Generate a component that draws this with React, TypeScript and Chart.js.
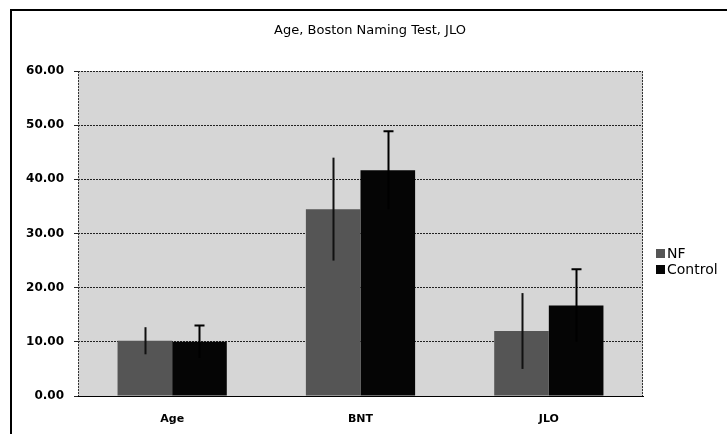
import React, { useEffect, useRef } from "react";
import { Chart, registerables } from "chart.js";

Chart.register(...registerables);

const TITLE = "Age, Boston Naming Test, JLO";
const categories = ["Age", "BNT", "JLO"];
const nfValues = [10.2, 34.5, 12.0];
const nfErrors = [2.5, 9.5, 7.0];
const controlValues = [10.0, 41.7, 16.7];
const controlErrors = [3.0, 7.2, 6.7];
const yTicks = [0, 10, 20, 30, 40, 50, 60];

const FONT = "'DejaVu Sans', Verdana, sans-serif";

const bgPlugin = {
  id: "bgPlugin",
  beforeDraw(chart: any) {
    const { ctx, chartArea: a } = chart;
    ctx.save();
    ctx.fillStyle = "#ffffff";
    ctx.fillRect(0, 0, chart.width, chart.height);
    ctx.fillStyle = "#d6d6d6";
    ctx.fillRect(a.left, a.top, a.right - a.left, a.bottom - a.top);
    ctx.restore();
  },
  afterDraw(chart: any) {
    const { ctx, chartArea: a } = chart;
    ctx.save();
    ctx.strokeStyle = "#000";
    ctx.lineWidth = 2;
    ctx.beginPath();
    ctx.moveTo(11, 440);
    ctx.lineTo(11, 10);
    ctx.lineTo(740, 10);
    ctx.stroke();
    ctx.lineWidth = 1;
    ctx.setLineDash([2, 1]);
    ctx.strokeStyle = "#333";
    ctx.beginPath();
    ctx.moveTo(a.left + 0.5, a.top);
    ctx.lineTo(a.left + 0.5, a.bottom);
    ctx.moveTo(a.right - 0.5, a.top);
    ctx.lineTo(a.right - 0.5, a.bottom);
    ctx.stroke();
    ctx.setLineDash([]);
    ctx.fillStyle = "#000";
    ctx.font = `13px ${FONT}`;
    ctx.textAlign = "center";
    ctx.textBaseline = "middle";
    ctx.fillText(TITLE, 370, 31);
    const items = [
      { label: "NF", color: "#555555" },
      { label: "Control", color: "#050505" },
    ];
    ctx.font = `14px ${FONT}`;
    ctx.textAlign = "left";
    items.forEach((it, i) => {
      const y = 253 + i * 16;
      ctx.fillStyle = it.color;
      ctx.fillRect(656, y - 4, 9, 9);
      ctx.fillStyle = "#000";
      ctx.fillText(it.label, 667, y + 1);
    });
    ctx.restore();
  },
};

const errorPlugin = {
  id: "errorPlugin",
  afterDatasetsDraw(chart: any) {
    const { ctx } = chart;
    const yScale = chart.scales.y;
    const errs = [nfErrors, controlErrors];
    const vals = [nfValues, controlValues];
    ctx.save();
    ctx.lineWidth = 2;
    [0, 1].forEach((di) => {
      const meta = chart.getDatasetMeta(di);
      meta.data.forEach((bar: any, i: number) => {
        const x = Math.round(bar.x) + 0.5;
        const yTop = yScale.getPixelForValue(vals[di][i] + errs[di][i]);
        const yBot = yScale.getPixelForValue(vals[di][i] - errs[di][i]);
        ctx.strokeStyle = di === 0 ? "#111" : "#000";
        ctx.beginPath();
        ctx.moveTo(x, yBot);
        ctx.lineTo(x, yTop);
        if (di === 1) {
          ctx.moveTo(x - 5, yTop);
          ctx.lineTo(x + 5, yTop);
        }
        ctx.stroke();
      });
    });
    ctx.restore();
  },
};

export default function App() {
  const ref = useRef<HTMLCanvasElement>(null);
  useEffect(() => {
    if (!ref.current) return;
    const chart = new Chart(ref.current, {
      type: "bar",
      data: {
        labels: categories,
        datasets: [
          {
            label: "NF",
            data: nfValues,
            backgroundColor: "#555555",
            categoryPercentage: 0.58,
            barPercentage: 1,
          },
          {
            label: "Control",
            data: controlValues,
            backgroundColor: "#050505",
            categoryPercentage: 0.58,
            barPercentage: 1,
          },
        ],
      },
      options: {
        animation: false,
        responsive: false,
        maintainAspectRatio: false,
        layout: { padding: { left: 0, right: 84, top: 71, bottom: 0 } },
        plugins: {
          legend: { display: false },
          title: { display: false },
          tooltip: { enabled: false },
        },
        scales: {
          x: {
            afterFit: (s: any) => {
              s.height = 38;
            },
            grid: { display: false },
            border: { display: true, color: "#000", width: 1 },
            ticks: {
              color: "#000",
              font: { family: FONT, size: 11, weight: "bold" },
              padding: 9,
            },
          },
          y: {
            min: 0,
            max: 60,
            afterFit: (s: any) => {
              s.width = 78;
            },
            afterBuildTicks: (s: any) => {
              s.ticks = yTicks.map((v) => ({ value: v }));
            },
            border: { display: false },
            grid: {
              color: "#222",
              lineWidth: 1,
              tickLength: 4,
              drawTicks: true,
            },
            border: { display: false, dash: [2, 1] },
            ticks: {
              color: "#000",
              padding: 10,
              font: { family: FONT, size: 12, weight: "bold" },
              callback: (v: any) => Number(v).toFixed(2),
            },
          },
        },
      },
      plugins: [bgPlugin, errorPlugin],
    });
    return () => chart.destroy();
  }, []);
  return (
    <div style={{ position: "absolute", left: 0, top: 0, width: 727, height: 434 }}>
      <canvas ref={ref} width={727} height={434} style={{ width: 727, height: 434 }} />
    </div>
  );
}
